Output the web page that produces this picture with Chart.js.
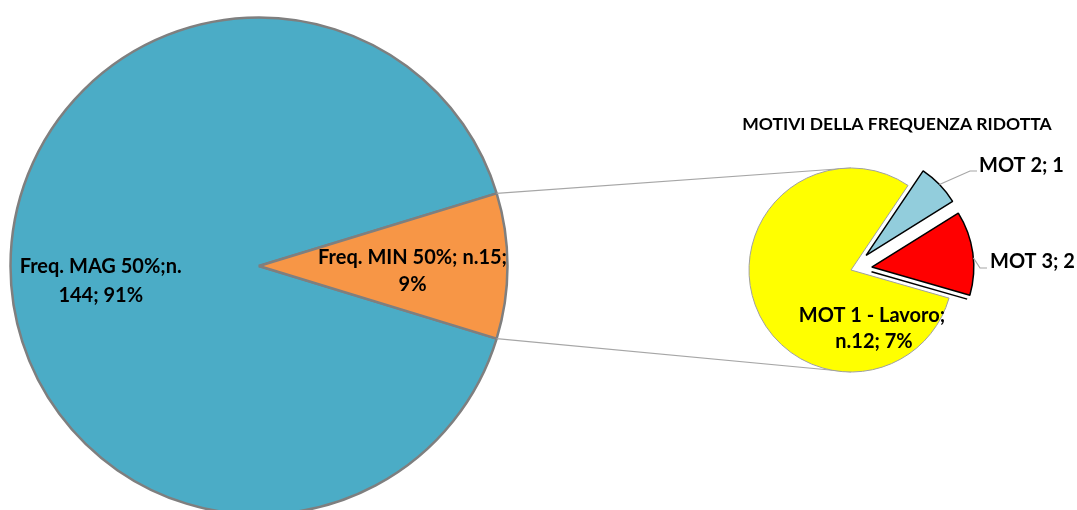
<!DOCTYPE html>
<html><head><meta charset="utf-8">
<script src="https://cdn.jsdelivr.net/npm/chart.js@4/dist/chart.umd.min.js"></script>
<style>
html,body{margin:0;padding:0;background:#fff;overflow:hidden}
#wrap{position:relative;width:1077px;height:510px}
canvas{position:absolute;left:0;top:0}
</style></head><body>
<div id="wrap"><canvas id="main" width="1077" height="510"></canvas><canvas id="sub" width="1077" height="510"></canvas></div>
<script>
// ---- data ----
const mainLabels = ['Freq. MAG 50%', 'Freq. MIN 50%'];
const mainValues = [144, 15];
const mainPercents = [91, 9];
const subLabels = ['MOT 1 - Lavoro', 'MOT 2', 'MOT 3'];
const subValues = [12, 1, 2];
const subPercents = [7, null, null];
const subTitle = 'MOTIVI DELLA FREQUENZA RIDOTTA';

// ---- styles ----
const mainColors = ['#4BACC6', '#F79646'];
const subColors = ['#FFFF00', '#92CDDC', '#FF0000'];
const subBorders = ['#A0A0A0', '#000000', '#000000'];
const subBorderWidths = [1, 1.5, 1.5];
const subExplode = [0, 21, 21];
const FONT = 'bold 20px Lato';
const TITLE_FONT = 'bold 17.5px Lato';

const mainText = [
  [mainLabels[0] + ';n.', mainValues[0] + '; ' + mainPercents[0] + '%'],
  [mainLabels[1] + '; n.' + mainValues[1] + ';', mainPercents[1] + '%']
];
const subText = [
  [subLabels[0] + ';', 'n.' + subValues[0] + '; ' + subPercents[0] + '%'],
  [subLabels[1] + '; ' + subValues[1]],
  [subLabels[2] + '; ' + subValues[2]]
];

const mainTotal = mainValues.reduce((a, b) => a + b, 0);
const minSweep = mainValues[1] / mainTotal * 360;

const mainLabelPlugin = {
  id: 'mainLabels',
  afterDatasetsDraw(chart) {
    const ctx = chart.ctx;
    const arcs = chart.getDatasetMeta(0).data;
    const a = arcs[0];
    const cx = a.x, cy = a.y, R = a.outerRadius;
    ctx.save();
    ctx.font = FONT;
    ctx.fillStyle = '#000';
    ctx.textAlign = 'center';
    ctx.textBaseline = 'alphabetic';
    const magX = cx - R * 0.637, magY = cy + 7;
    ctx.fillText(mainText[0][0], magX, magY);
    ctx.fillText(mainText[0][1], magX, magY + 29);
    const minX = cx + R * 0.618, minY = cy - 2.5;
    ctx.fillText(mainText[1][0], minX, minY);
    ctx.fillText(mainText[1][1], minX, minY + 27);
    ctx.restore();
  }
};

const mainChart = new Chart(document.getElementById('main'), {
  type: 'pie',
  data: {
    labels: mainLabels,
    datasets: [{
      data: mainValues,
      backgroundColor: mainColors,
      borderColor: '#7F7F7F',
      borderWidth: 2.5,
      hoverOffset: 0,
      radius: 248.5
    }]
  },
  options: {
    responsive: false,
    animation: false,
    events: [],
    rotation: 90 + minSweep / 2,
    layout: { padding: { left: 0, right: 1077 - 518, top: 22, bottom: 0 } },
    plugins: { legend: { display: false }, tooltip: { enabled: false }, title: { display: false } }
  },
  plugins: [mainLabelPlugin]
});

const subPlugin = {
  id: 'subExtras',
  afterDatasetsUpdate(chart) {
    const arcs = chart.getDatasetMeta(0).data;
    arcs.forEach((arc, i) => {
      const e = subExplode[i];
      if (!e) return;
      const m = (arc.startAngle + arc.endAngle) / 2;
      arc.x += Math.cos(m) * e;
      arc.y += Math.sin(m) * e;
    });
  },
  beforeDatasetsDraw(chart) {
    const ctx = chart.ctx;
    const minArc = mainChart.getDatasetMeta(0).data[1];
    const y0 = chart.getDatasetMeta(0).data[0];
    const R = minArc.outerRadius;
    const p1 = [minArc.x + R * Math.cos(minArc.startAngle), minArc.y + R * Math.sin(minArc.startAngle)];
    const p2 = [minArc.x + R * Math.cos(minArc.endAngle), minArc.y + R * Math.sin(minArc.endAngle)];
    ctx.save();
    ctx.strokeStyle = '#A6A6A6';
    ctx.lineWidth = 1.2;
    ctx.beginPath();
    ctx.moveTo(p1[0], p1[1]); ctx.lineTo(y0.x, y0.y - y0.outerRadius);
    ctx.moveTo(p2[0], p2[1]); ctx.lineTo(y0.x, y0.y + y0.outerRadius);
    ctx.stroke();
    ctx.restore();
  },
  afterDatasetsDraw(chart) {
    const ctx = chart.ctx;
    const arcs = chart.getDatasetMeta(0).data;
    const y0 = arcs[0], b = arcs[1], r = arcs[2];
    ctx.save();
    {
      const ang = r.endAngle;
      const ux = Math.cos(ang), uy = Math.sin(ang);
      const px = -uy * 4.5, py = ux * 4.5;
      ctx.strokeStyle = '#000';
      ctx.lineWidth = 1.5;
      ctx.beginPath();
      ctx.moveTo(r.x + ux * 1 + px, r.y + uy * 1 + py);
      ctx.lineTo(r.x + ux * (r.outerRadius - 1.5) + px, r.y + uy * (r.outerRadius - 1.5) + py);
      ctx.stroke();
    }
    ctx.strokeStyle = '#A6A6A6';
    ctx.lineWidth = 1.2;
    const bm = (b.startAngle + b.endAngle) / 2;
    const rm = (r.startAngle + r.endAngle) / 2;
    ctx.beginPath();
    ctx.moveTo(b.x + b.outerRadius * Math.cos(bm), b.y + b.outerRadius * Math.sin(bm));
    ctx.lineTo(970, 171); ctx.lineTo(977, 171);
    ctx.moveTo(r.x + r.outerRadius * Math.cos(rm + 0.05), r.y + r.outerRadius * Math.sin(rm + 0.05));
    ctx.lineTo(980, 268); ctx.lineTo(987, 268);
    ctx.stroke();
    ctx.font = FONT;
    ctx.fillStyle = '#000';
    ctx.textBaseline = 'alphabetic';
    ctx.textAlign = 'center';
    ctx.fillText(subText[0][0], y0.x + 21, y0.y + 51.7);
    ctx.fillText(subText[0][1], y0.x + 23, y0.y + 78);
    ctx.textAlign = 'left';
    ctx.fillText(subText[1][0], 979, 171.7);
    ctx.fillText(subText[2][0], 990, 268.3);
    ctx.textAlign = 'center';
    ctx.font = TITLE_FONT;
    ctx.fillText(subTitle, 897, 130);
    ctx.restore();
  }
};

const subChart = new Chart(document.getElementById('sub'), {
  type: 'pie',
  data: {
    labels: subLabels,
    datasets: [{
      data: subValues,
      backgroundColor: subColors,
      borderColor: subBorders,
      borderWidth: subBorderWidths,
      hoverOffset: 0,
      radius: 102
    }]
  },
  options: {
    responsive: false,
    animation: false,
    events: [],
    rotation: 106,
    layout: { padding: { left: 625, right: 0, top: 30, bottom: 0 } },
    plugins: { legend: { display: false }, tooltip: { enabled: false }, title: { display: false } }
  },
  plugins: [subPlugin]
});
</script>
</body></html>
